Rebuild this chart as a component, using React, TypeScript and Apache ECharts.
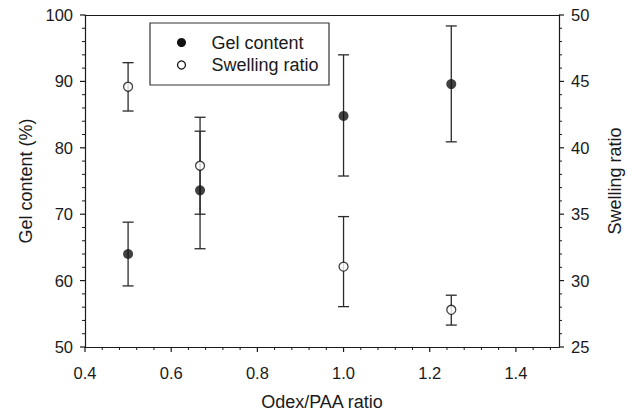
import React, { useEffect, useRef } from "react";
import * as echarts from "echarts";

const xValues = [0.5, 0.667, 1.0, 1.25];
const gelContent = [64.0, 73.6, 84.8, 89.6];
const gelLow = [59.2, 64.8, 75.75, 80.9];
const gelHigh = [68.8, 82.5, 94.0, 98.35];
const swellingRatio = [44.6, 38.65, 31.05, 27.8];
const swellingLow = [42.77, 35.0, 28.04, 26.65];
const swellingHigh = [46.41, 42.3, 34.82, 28.9];

const xTicks = [0.4, 0.6, 0.8, 1.0, 1.2, 1.4];
const leftTicks = [50, 60, 70, 80, 90, 100];
const rightTicks = [25, 30, 35, 40, 45, 50];
const legendNames = ["Gel content", "Swelling ratio"];
const xName = "Odex/PAA ratio";
const leftName = "Gel content (%)";
const rightName = "Swelling ratio";

const FONT = "'Liberation Sans', Arial, Helvetica, sans-serif";
const INK = "#1a1a1a";

export default function App() {
  const ref = useRef<HTMLDivElement>(null);
  useEffect(() => {
    if (!ref.current) return;
    const chart = echarts.init(ref.current, null, { renderer: "svg" });
    const X_MIN = 0.4, X_MAX = 1.5, L_MIN = 50, L_MAX = 100, R_MIN = 25, R_MAX = 50;
    const MAJOR = 5, MINOR = 3;

    const withMinors = (ticks: number[], parts: number, max: number) => {
      const step = (ticks[1] - ticks[0]) / parts;
      const out: number[][] = [];
      const last = ticks[ticks.length - 1];
      ticks.forEach((t) => out.push([t, MAJOR]));
      for (let i = 0; i < ticks.length; i++) {
        for (let k = 1; k < parts; k++) {
          const v = Math.round((ticks[i] + k * step) * 1000) / 1000;
          if (v < max - 1e-9 && (i < ticks.length - 1 || v > last)) out.push([v, MINOR]);
        }
      }
      return out;
    };
    const xTickSpec = withMinors(xTicks, 5, X_MAX);
    const leftTickSpec = withMinors(leftTicks, 5, L_MAX);
    const rightTickSpec = withMinors(rightTicks, 5, R_MAX);
    const tickStyle = (len: number) => ({ stroke: INK, lineWidth: len === MAJOR ? 1.2 : 1 });

    const errData = (lo: number[], hi: number[]) => xValues.map((x, i) => [x, lo[i], hi[i]]);
    const renderErr = (params: any, api: any) => {
      const x = api.value(0);
      const lo = api.coord([x, api.value(1)]);
      const hi = api.coord([x, api.value(2)]);
      const w = 5.5;
      const style = { stroke: "#2a2a2a", lineWidth: 1.3 };
      return {
        type: "group",
        children: [
          { type: "line", shape: { x1: lo[0], y1: lo[1], x2: hi[0], y2: hi[1] }, style },
          { type: "line", shape: { x1: lo[0] - w, y1: lo[1], x2: lo[0] + w, y2: lo[1] }, style },
          { type: "line", shape: { x1: hi[0] - w, y1: hi[1], x2: hi[0] + w, y2: hi[1] }, style },
        ],
      };
    };
    const tickSeries = (name: string, yIdx: number, data: number[][], kind: string) => ({
      type: "custom",
      name,
      xAxisIndex: 0,
      yAxisIndex: yIdx,
      silent: true,
      clip: false,
      renderItem: (p: any, api: any) => {
        const i = p.dataIndex;
        const [v, len] = data[i];
        let shape;
        if (kind === "x") {
          const c = api.coord([v, L_MIN]);
          shape = { x1: c[0], y1: c[1], x2: c[0], y2: c[1] + len };
        } else if (kind === "l") {
          const c = api.coord([X_MIN, v]);
          shape = { x1: c[0] - len, y1: c[1], x2: c[0], y2: c[1] };
        } else {
          const c = api.coord([X_MAX, v]);
          shape = { x1: c[0], y1: c[1], x2: c[0] + len, y2: c[1] };
        }
        return { type: "line", shape, style: tickStyle(len) };
      },
      encode: { x: 0, y: 1 },
      data: data.map(([v]) => (kind === "x" ? [v, yIdx === 0 ? L_MIN : R_MIN] : [kind === "l" ? X_MIN : X_MAX, v])),
      z: 5,
    });
    const axisLine = { show: true, lineStyle: { color: INK, width: 1.2 } };
    const labelStyle = { color: INK, fontSize: 16.5, fontFamily: FONT };
    const nameStyle = { color: INK, fontSize: 18, fontFamily: FONT };
    chart.setOption({
      animation: false,
      grid: { left: 85, right: 68, top: 15, bottom: 65, outerBoundsMode: "none", containLabel: false },
      xAxis: [
        {
          type: "value",
          min: X_MIN,
          max: X_MAX,
          interval: 0.2,
          position: "bottom",
          axisLine,
          axisTick: { show: false },
          axisLabel: {
            ...labelStyle,
            margin: 17,
            formatter: (v: number) => (xTicks.some((t) => Math.abs(t - v) < 1e-6) ? v.toFixed(1) : ""),
          },
          splitLine: { show: false },
          name: xName,
          nameLocation: "middle",
          nameGap: 46,
          nameTextStyle: nameStyle,
        },
        {
          type: "value",
          min: X_MIN,
          max: X_MAX,
          position: "top",
          axisLine,
          axisTick: { show: false },
          axisLabel: { show: false },
          splitLine: { show: false },
        },
      ],
      yAxis: [
        {
          type: "value",
          min: L_MIN,
          max: L_MAX,
          interval: 10,
          position: "left",
          axisLine,
          axisTick: { show: false },
          axisLabel: { ...labelStyle, margin: 12 },
          splitLine: { show: false },
          name: leftName,
          nameLocation: "middle",
          nameGap: 50,
          nameTextStyle: nameStyle,
        },
        {
          type: "value",
          min: R_MIN,
          max: R_MAX,
          interval: 5,
          position: "right",
          axisLine,
          axisTick: { show: false },
          axisLabel: { ...labelStyle, margin: 12 },
          splitLine: { show: false },
          name: rightName,
          nameLocation: "middle",
          nameGap: 47,
          nameTextStyle: nameStyle,
        },
      ],
      series: [
        tickSeries("x ticks", 0, xTickSpec, "x"),
        tickSeries("left ticks", 0, leftTickSpec, "l"),
        tickSeries("right ticks", 1, rightTickSpec, "r"),
        {
          type: "custom",
          name: legendNames[0] + " error",
          xAxisIndex: 0,
          yAxisIndex: 0,
          renderItem: renderErr,
          encode: { x: 0, y: [1, 2] },
          data: errData(gelLow, gelHigh),
          z: 2,
        },
        {
          type: "custom",
          name: legendNames[1] + " error",
          xAxisIndex: 0,
          yAxisIndex: 1,
          renderItem: renderErr,
          encode: { x: 0, y: [1, 2] },
          data: errData(swellingLow, swellingHigh),
          z: 2,
        },
        {
          type: "scatter",
          name: legendNames[0],
          xAxisIndex: 0,
          yAxisIndex: 0,
          symbol: "circle",
          symbolSize: 10,
          itemStyle: { color: "#111" },
          data: xValues.map((x, i) => [x, gelContent[i]]),
          z: 3,
        },
        {
          type: "scatter",
          name: legendNames[1],
          xAxisIndex: 0,
          yAxisIndex: 1,
          symbol: "circle",
          symbolSize: 9,
          itemStyle: { color: "#fff", borderColor: "#111", borderWidth: 1.3 },
          data: xValues.map((x, i) => [x, swellingRatio[i]]),
          z: 3,
        },
      ],
      graphic: [
        {
          type: "rect",
          shape: { x: 150, y: 23, width: 179, height: 62 },
          style: { fill: "#fff", stroke: "#333", lineWidth: 1.2 },
          z: 10,
        },
        {
          type: "circle",
          shape: { cx: 181.5, cy: 42.5, r: 4.5 },
          style: { fill: "#111" },
          z: 11,
        },
        {
          type: "circle",
          shape: { cx: 181.5, cy: 65, r: 4 },
          style: { fill: "#fff", stroke: "#111", lineWidth: 1.3 },
          z: 11,
        },
        {
          type: "text",
          x: 211.5,
          y: 42.5,
          style: { text: legendNames[0], fill: INK, font: `18px ${FONT}`, verticalAlign: "middle" },
          z: 11,
        },
        {
          type: "text",
          x: 211.5,
          y: 65,
          style: { text: legendNames[1], fill: INK, font: `18px ${FONT}`, verticalAlign: "middle" },
          z: 11,
        },
      ],
    });
    return () => chart.dispose();
  }, []);
  return (
    <div
      ref={ref}
      style={{ position: "fixed", left: 0, top: 0, width: 627, height: 412, background: "#fff" }}
    />
  );
}
